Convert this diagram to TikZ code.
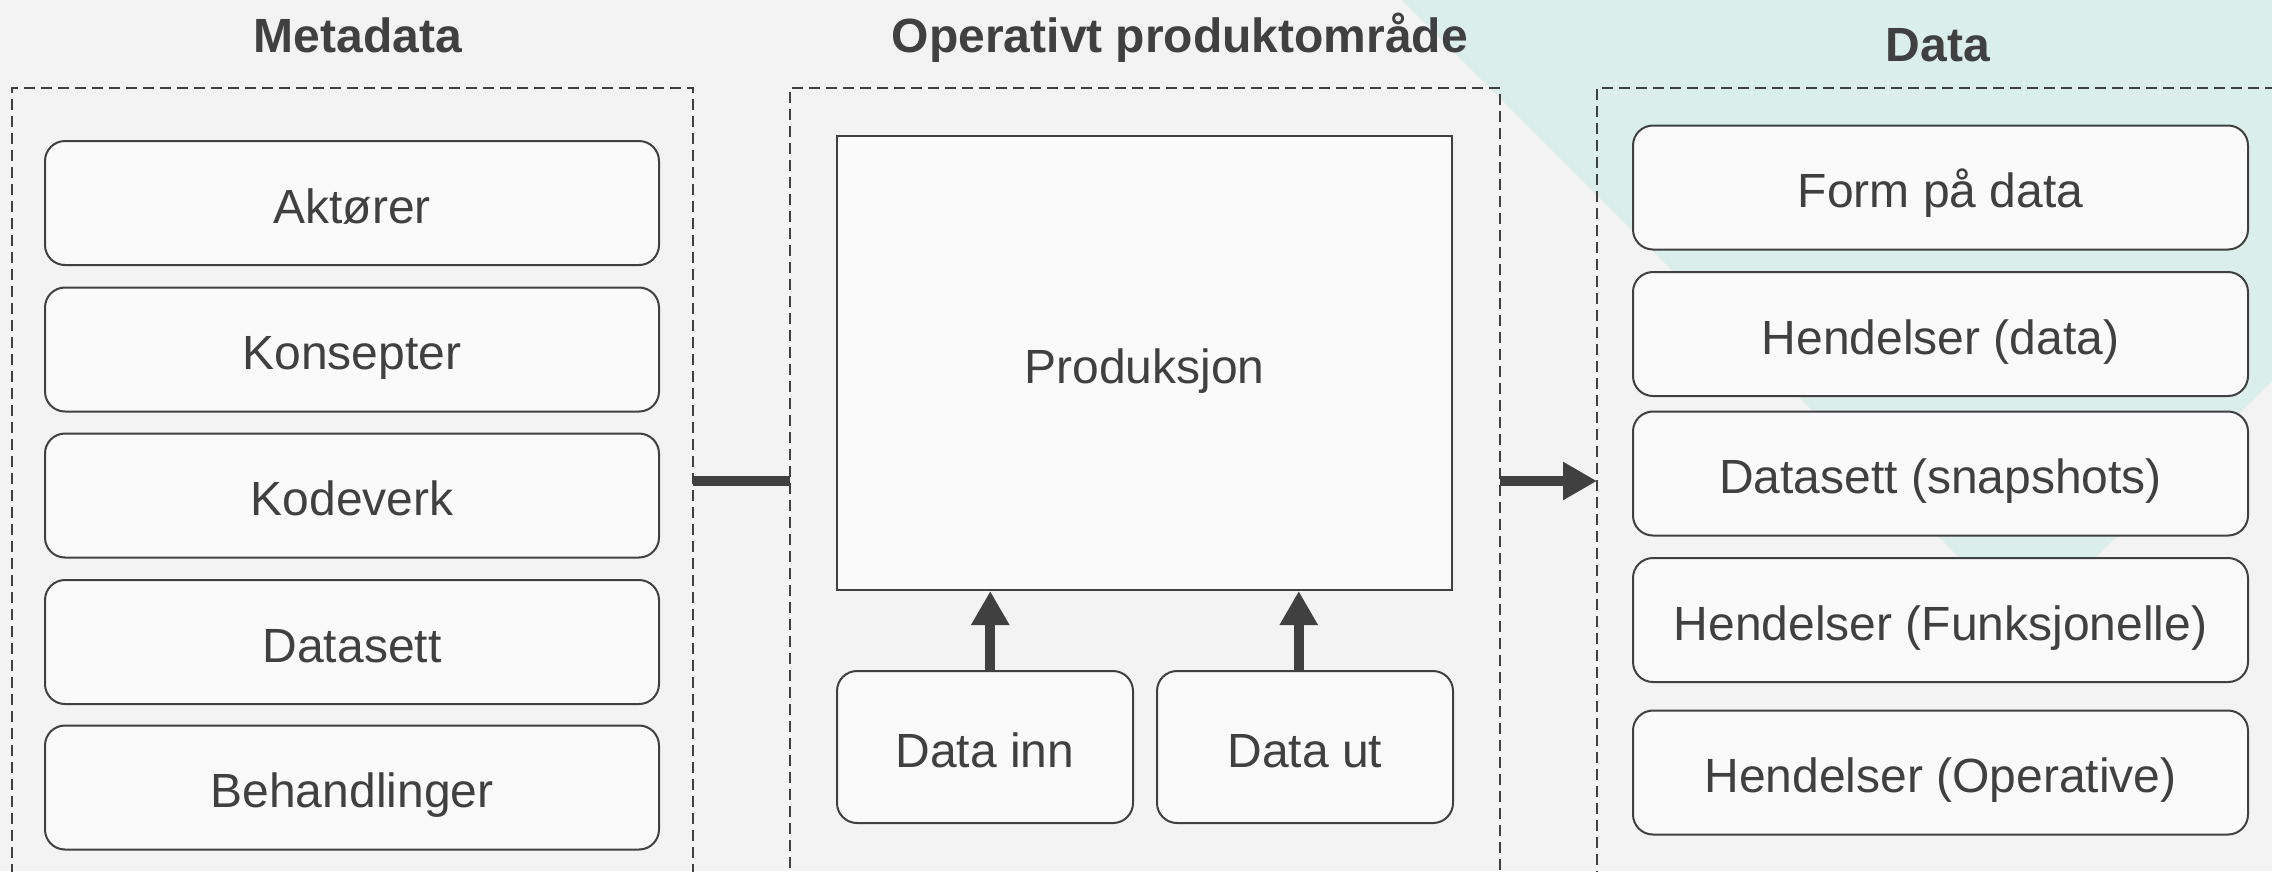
\documentclass[tikz,border=0pt]{standalone}
\usepackage{fontspec}
\setmainfont{Liberation Sans}
\usepackage{tikz}
\usetikzlibrary{arrows.meta,calc}
\definecolor{ink}{HTML}{404040}
\definecolor{paper}{HTML}{F3F3F3}
\definecolor{boxfill}{HTML}{FAFAFA}
\definecolor{mint}{HTML}{DAEEEB}
\tikzstyle{item}=[draw=ink,fill=boxfill,line width=0.5pt,rounded corners=5pt,inner sep=0pt,minimum width=153.5pt,minimum height=31pt,text=ink,text height=10pt,text depth=0pt,font=\fontsize{12pt}{14pt}\selectfont]
\tikzstyle{frame}=[draw=ink,line width=0.5pt,dash pattern=on 2.75pt off 1.5pt,inner sep=0pt,outer sep=0pt,minimum height=196.5pt]
\tikzstyle{heading}=[text=ink,text height=10pt,text depth=0pt,font=\fontsize{12pt}{14pt}\selectfont\bfseries]
\tikzstyle{link}=[draw=ink,line width=2.6pt]
\tikzstyle{flow}=[link,-{Triangle[length=8.5pt,width=9pt]}]

\begin{document}
\begin{tikzpicture}[x=0.25pt,y=-0.25pt]
    \clip (0,0) rectangle (2272,871);
    \fill[paper] (0,0) rectangle (2272,871);
    \fill[mint] (1402,0) -- (2027.5,625.5) -- (2300,353) -- (2300,0) -- cycle;
    % First we draw the three dashed areas and their headings
    \node[frame,minimum width=170.25pt] (meta) at (352.5,481) {};
    \node[frame,minimum width=177.5pt] (oper) at (1145,481) {};
    \node[frame,minimum width=175.75pt] (data) at (1948.5,481) {};
    \node[heading] (metatitle) at (358,32) {Metadata};
    \node[heading] (opertitle) at (1180,32) {Operativt produktområde};
    \node[heading] (datatitle) at (1938,41) {Data};
    % Metadata boxes
    \foreach \pos/\name/\txt in {{(352,203)/m1/Aktører}, {(352,349.5)/m2/Konsepter}, {(352,495.5)/m3/Kodeverk}, {(352,642)/m4/Datasett}, {(352,787.5)/m5/Behandlinger}}
        \node[item] (\name) at \pos {\txt};
    % Data boxes
    \foreach \pos/\name/\txt in {{(1940.5,187.5)/d1/Form på data}, {(1940.5,334)/d2/Hendelser (data)}, {(1940.5,473.5)/d3/Datasett (snapshots)}, {(1940.5,620)/d4/Hendelser (Funksjonelle)}, {(1940.5,772.5)/d5/Hendelser (Operative)}}
        \node[item,minimum width=153.75pt] (\name) at \pos {\txt};
    % Production with data in and out
    \node[item,rounded corners=0pt,minimum width=153.75pt,minimum height=113.5pt] (prod) at (1144.5,363) {Produksjon};
    \node[item,minimum width=74pt,minimum height=38pt] (inn) at (985,747) {Data inn};
    \node[item,minimum width=74pt,minimum height=38pt] (ut) at (1305,747) {Data ut};
    \coordinate (q1) at ($(prod.south west)!.25!(prod.south east)$);
    \coordinate (q2) at ($(prod.south west)!.75!(prod.south east)$);
    % Connect the areas and boxes
    \path[link] (meta.east) -- (oper.west);
    \path[flow] (oper.east) -- (data.west);
    \path[flow] (inn.north -| q1) -- (q1);
    \path[flow] (ut.north -| q2) -- (q2);
\end{tikzpicture}
\end{document}
